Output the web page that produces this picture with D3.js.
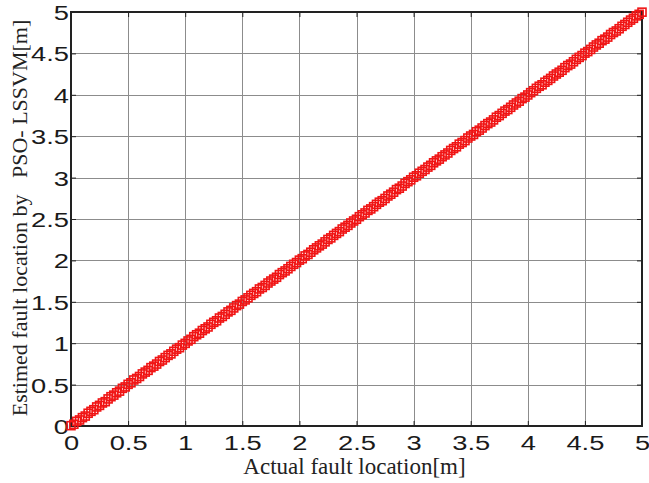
<!DOCTYPE html>
<html>
<head>
<meta charset="utf-8">
<script src="https://cdn.jsdelivr.net/npm/d3@7"></script>
<style>
  body { margin: 0; background: #fff; }
  .grid line { stroke: #8c8c8c; stroke-width: 1; shape-rendering: crispEdges; }
  .grid .domain { display: none; }
  .ax .domain { display: none; }
  .ax line { stroke: #222; stroke-width: 1; }
  .ax text { font-family: "Liberation Sans", Arial, sans-serif; font-size: 21px; fill: #1a1a1a; }
  .lbl { font-family: "Liberation Serif", "Times New Roman", serif; fill: #222; white-space: pre; }
</style>
</head>
<body>
<div id="chart"></div>
<script>
// actual fault location [m]
var actual = [
  0,0.025,0.05,0.075,0.1,0.125,0.15,0.175,0.2,0.225,0.25,0.275,0.3,0.325,0.35,0.375,0.4,0.425,0.45,0.475,
  0.5,0.525,0.55,0.575,0.6,0.625,0.65,0.675,0.7,0.725,0.75,0.775,0.8,0.825,0.85,0.875,0.9,0.925,0.95,0.975,
  1,1.025,1.05,1.075,1.1,1.125,1.15,1.175,1.2,1.225,1.25,1.275,1.3,1.325,1.35,1.375,1.4,1.425,1.45,1.475,
  1.5,1.525,1.55,1.575,1.6,1.625,1.65,1.675,1.7,1.725,1.75,1.775,1.8,1.825,1.85,1.875,1.9,1.925,1.95,1.975,
  2,2.025,2.05,2.075,2.1,2.125,2.15,2.175,2.2,2.225,2.25,2.275,2.3,2.325,2.35,2.375,2.4,2.425,2.45,2.475,
  2.5,2.525,2.55,2.575,2.6,2.625,2.65,2.675,2.7,2.725,2.75,2.775,2.8,2.825,2.85,2.875,2.9,2.925,2.95,2.975,
  3,3.025,3.05,3.075,3.1,3.125,3.15,3.175,3.2,3.225,3.25,3.275,3.3,3.325,3.35,3.375,3.4,3.425,3.45,3.475,
  3.5,3.525,3.55,3.575,3.6,3.625,3.65,3.675,3.7,3.725,3.75,3.775,3.8,3.825,3.85,3.875,3.9,3.925,3.95,3.975,
  4,4.025,4.05,4.075,4.1,4.125,4.15,4.175,4.2,4.225,4.25,4.275,4.3,4.325,4.35,4.375,4.4,4.425,4.45,4.475,
  4.5,4.525,4.55,4.575,4.6,4.625,4.65,4.675,4.7,4.725,4.75,4.775,4.8,4.825,4.85,4.875,4.9,4.925,4.95,4.975,
  5
]
// estimated by PSO-LSSVM [m]
var estimated = [
  0.004,0.021,0.056,0.073,0.101,0.12,0.154,0.177,0.197,0.23,0.249,0.278,0.294,0.327,0.354,0.373,0.401,0.421,0.455,0.472,
  0.503,0.522,0.556,0.574,0.598,0.629,0.651,0.672,0.705,0.723,0.748,0.779,0.797,0.826,0.853,0.871,0.902,0.928,0.946,0.977,
  0.998,1.027,1.047,1.079,1.102,1.121,1.153,1.174,1.196,1.228,1.252,1.271,1.304,1.323,1.349,1.378,1.397,1.426,1.454,1.472,
  1.504,1.523,1.548,1.578,1.601,1.622,1.655,1.673,1.698,1.727,1.751,1.774,1.796,1.829,1.852,1.873,1.899,1.927,1.953,1.974,
  2.003,2.021,2.054,2.072,2.099,2.128,2.151,2.176,2.197,2.224,2.253,2.272,2.302,2.326,2.348,2.379,2.401,2.423,2.452,2.476,
  2.497,2.528,2.551,2.573,2.604,2.622,2.649,2.677,2.703,2.721,2.748,2.778,2.799,2.824,2.855,2.872,2.898,2.929,2.951,2.973,
  3.004,3.022,3.053,3.076,3.098,3.127,3.148,3.179,3.202,3.223,3.252,3.274,3.297,3.328,3.351,3.372,3.404,3.424,3.447,3.478,
  3.502,3.521,3.554,3.573,3.599,3.628,3.652,3.671,3.697,3.729,3.749,3.776,3.803,3.822,3.849,3.877,3.901,3.923,3.954,3.972,
  3.998,4.026,4.049,4.078,4.103,4.121,4.152,4.174,4.198,4.227,4.251,4.273,4.296,4.328,4.353,4.371,4.399,4.428,4.452,4.474,
  4.503,4.522,4.548,4.577,4.602,4.623,4.654,4.672,4.697,4.728,4.752,4.771,4.798,4.827,4.849,4.876,4.902,4.924,4.953,4.972,
  4.998
]
var ticks = [0,0.5,1,1.5,2,2.5,3,3.5,4,4.5,5]
var tickLabels = ["0","0.5","1","1.5","2","2.5","3","3.5","4","4.5","5"]

var W = 649, H = 483
var m = {left: 71, right: 7, top: 12, bottom: 57}
var w = W - m.left - m.right, h = H - m.top - m.bottom
var stretch = 1.3   // tick digits are drawn wide in the original

var svg = d3.select('#chart').append('svg')
    .attr('width', W).attr('height', H)
var g = svg.append('g').attr('transform', 'translate(' + m.left + ',' + m.top + ')')

var x = d3.scaleLinear().domain([0, 5]).range([0, w])
var y = d3.scaleLinear().domain([0, 5]).range([h, 0])
var fmt = d => tickLabels[ticks.indexOf(d)]

// grid
g.append('g').attr('class', 'grid')
  .attr('transform', 'translate(0,' + h + ')')
  .call(d3.axisBottom(x).tickValues(ticks).tickSize(-h).tickFormat(''))
g.append('g').attr('class', 'grid')
  .call(d3.axisLeft(y).tickValues(ticks).tickSize(-w).tickFormat(''))

// axes, ticks pointing inward on all four sides
var bottom = g.append('g').attr('class', 'ax')
  .attr('transform', 'translate(0,' + h + ')')
  .call(d3.axisBottom(x).tickValues(ticks).tickSize(-5).tickPadding(0).tickFormat(fmt))
bottom.selectAll('text')
  .attr('y', 0).attr('dy', 24)
  .attr('transform', 'scale(' + stretch + ',1)')

var left = g.append('g').attr('class', 'ax')
  .call(d3.axisLeft(y).tickValues(ticks).tickSize(-5).tickFormat(fmt))
left.selectAll('text')
  .attr('x', -2 / stretch).attr('dy', '0.36em')
  .attr('transform', 'scale(' + stretch + ',1)')

g.append('g').attr('class', 'ax')
  .call(d3.axisTop(x).tickValues(ticks).tickSize(-5).tickFormat(''))
g.append('g').attr('class', 'ax')
  .attr('transform', 'translate(' + w + ',0)')
  .call(d3.axisRight(y).tickValues(ticks).tickSize(-5).tickFormat(''))

// box
g.append('rect')
  .attr('width', w).attr('height', h)
  .attr('fill', 'none').attr('stroke', '#222').attr('stroke-width', 2)

// markers
var s = 8
g.selectAll('.pt')
  .data(actual)
  .enter()
  .append('rect')
  .attr('class', 'pt')
  .attr('x', (d, i) => x(d) - s / 2)
  .attr('y', (d, i) => y(estimated[i]) - s / 2)
  .attr('width', s).attr('height', s)
  .attr('fill', 'none')
  .attr('stroke', '#f01515')
  .attr('stroke-width', 1.6)

// labels
svg.append('text').attr('class', 'lbl')
  .attr('x', m.left + w / 2 - 2).attr('y', 474)
  .attr('text-anchor', 'middle')
  .style('font-size', '23px')
  .text('Actual fault location[m]')

svg.append('text').attr('class', 'lbl')
  .attr('transform', 'translate(27,' + (m.top + h / 2 - 1) + ') rotate(-90)')
  .attr('text-anchor', 'middle')
  .style('font-size', '22px')
  .text('Estimed fault location by   PSO- LSSVM[m]')
</script>
</body>
</html>
